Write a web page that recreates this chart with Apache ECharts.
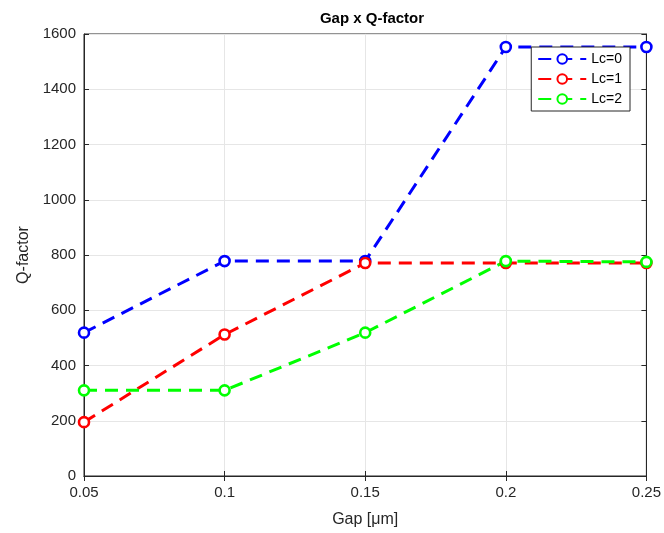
<!DOCTYPE html>
<html>
<head>
<meta charset="utf-8">
<script src="https://cdn.jsdelivr.net/npm/echarts@6/dist/echarts.min.js"></script>
<style>
  html, body { margin: 0; padding: 0; background: #fff; }
  #chart { width: 664px; height: 533px; }
</style>
</head>
<body>
<div id="chart"></div>
<script>
// data
const gaps = [0.05, 0.1, 0.15, 0.2, 0.25]
const lc0 = [519, 778, 778, 1553, 1553]
const lc1 = [195, 512, 771, 771, 771]
const lc2 = [310, 310, 519, 778, 775]
const seriesNames = ['Lc=0', 'Lc=1', 'Lc=2']
const seriesColors = ['#0000ff', '#ff0000', '#00ff00']

const font = 'Liberation Sans, Arial, sans-serif'
const axisColor = '#262626'

const pairs = vals => gaps.map((g, i) => [g, vals[i]])

const makeSeries = (name, vals, color) => ({
  name: name,
  type: 'line',
  data: pairs(vals),
  symbol: 'circle',
  symbolSize: 10,
  color: color,
  lineStyle: { width: 3, type: [13, 8], color: color },
  itemStyle: { color: '#fff', borderColor: color, borderWidth: 2.6 },
  emphasis: { disabled: true },
  z: 3
})

const chart = echarts.init(document.getElementById('chart'))
chart.setOption({
  animation: false,
  textStyle: { fontFamily: font },
  title: {
    text: 'Gap x Q-factor',
    left: 367,
    textAlign: 'center',
    top: 6,
    textStyle: { fontSize: 15, fontWeight: 'bold', color: '#000', fontFamily: font }
  },
  grid: {
    left: 84, right: 16, top: 34, bottom: 55,
    show: true, borderColor: axisColor, borderWidth: 1
  },
  legend: {
    orient: 'vertical',
    right: 34,
    top: 47,
    padding: [5, 8, 5, 6],
    itemGap: 6,
    itemWidth: 48,
    itemHeight: 12,
    backgroundColor: '#fff',
    borderColor: '#262626',
    borderWidth: 1,
    borderRadius: 0,
    textStyle: { fontSize: 14, color: '#000', fontFamily: font },
    data: seriesNames
  },
  xAxis: [{
    type: 'value',
    min: 0.05, max: 0.25, interval: 0.05,
    name: 'Gap [μm]',
    nameLocation: 'middle',
    nameGap: 36,
    nameTextStyle: { fontSize: 16, color: axisColor },
    axisLine: { show: true, lineStyle: { color: axisColor } },
    axisTick: { show: true, inside: true, length: 5, lineStyle: { color: axisColor } },
    axisLabel: {
      fontSize: 15, color: axisColor, margin: 9,
      formatter: v => String(parseFloat(v.toFixed(2)))
    },
    splitLine: { show: true, lineStyle: { color: '#e6e6e6' } }
  }, {
    type: 'value', position: 'top',
    min: 0.05, max: 0.25, interval: 0.05,
    axisLine: { show: true, lineStyle: { color: axisColor } },
    axisTick: { show: true, inside: true, length: 5, lineStyle: { color: axisColor } },
    axisLabel: { show: false },
    splitLine: { show: false }
  }],
  yAxis: [{
    type: 'value',
    min: 0, max: 1600, interval: 200,
    name: 'Q-factor',
    nameLocation: 'middle',
    nameGap: 52,
    nameTextStyle: { fontSize: 16, color: axisColor },
    axisLine: { show: true, lineStyle: { color: axisColor } },
    axisTick: { show: true, inside: true, length: 5, lineStyle: { color: axisColor } },
    axisLabel: { fontSize: 15, color: axisColor, margin: 8, formatter: v => String(v) },
    splitLine: { show: true, lineStyle: { color: '#e6e6e6' } }
  }, {
    type: 'value', position: 'right',
    min: 0, max: 1600, interval: 200,
    axisLine: { show: true, lineStyle: { color: axisColor } },
    axisTick: { show: true, inside: true, length: 5, lineStyle: { color: axisColor } },
    axisLabel: { show: false },
    splitLine: { show: false }
  }],
  series: [
    makeSeries(seriesNames[0], lc0, seriesColors[0]),
    makeSeries(seriesNames[1], lc1, seriesColors[1]),
    makeSeries(seriesNames[2], lc2, seriesColors[2])
  ]
})
</script>
</body>
</html>
